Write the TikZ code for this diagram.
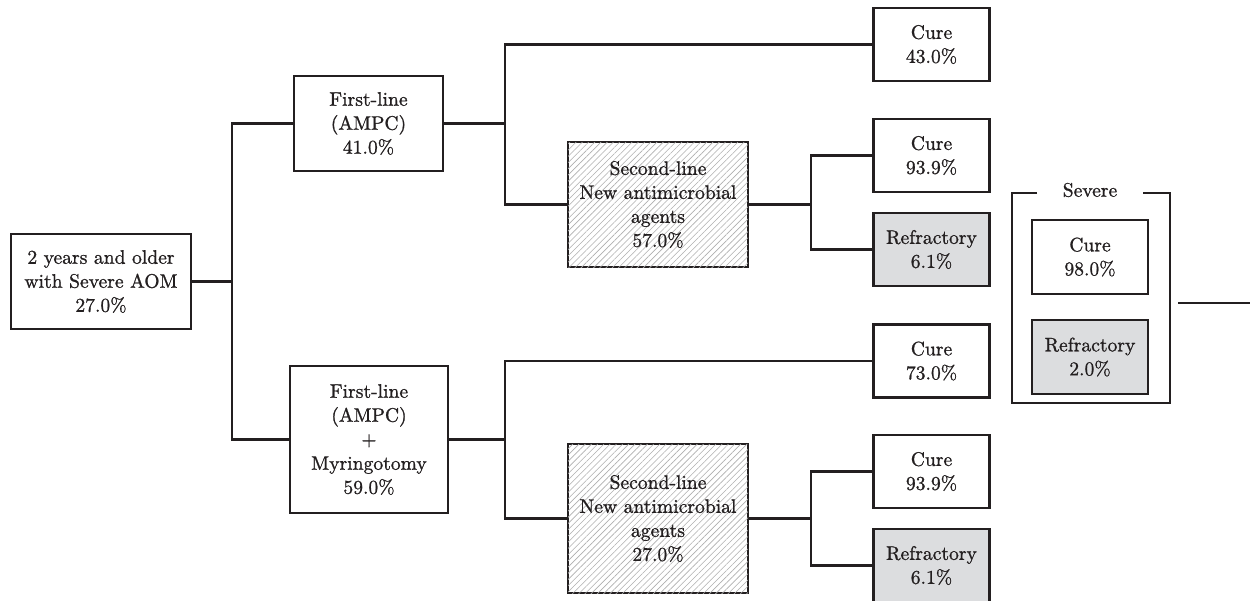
\documentclass[tikz,border=0pt]{standalone}
\usepackage{fontspec}
\newfontfamily\diagfont{lmroman10-regular.otf}[FakeBold=1]
\usetikzlibrary{patterns.meta}
\definecolor{refgray}{RGB}{220,221,223}
\definecolor{hatchgray}{RGB}{175,175,175}
\definecolor{ink}{RGB}{35,31,32}
\begin{document}
\begin{tikzpicture}[x=1pt,y=-1pt,
  every node/.style={font=\diagfont\fontsize{19.6}{24}\selectfont, text=ink},
  box/.style={draw=ink, line width=2.2pt, inner sep=0pt, align=center, fill=white},
  smallbox/.style={box, minimum width=116pt, minimum height=73pt},
  graybox/.style={smallbox, fill=refgray},
  hatchbox/.style={box, minimum width=180pt,
    postaction={pattern={Lines[angle=45,distance=4.4pt,line width=0.6pt]}, pattern color=hatchgray}},
  link/.style={draw=ink, line width=2.2pt},
]
\useasboundingbox (0,0) rectangle (1250,600);

% trunk positions of the tree
\coordinate (t1) at (232,0);
\coordinate (t2) at (505,0);
\coordinate (t3) at (811,0);

% boxes
\node[box, minimum width=180pt, minimum height=95pt] (root) at (101,281.5)
  {2 years and older\\with Severe AOM\\27.0\%};
\node[box, minimum width=149pt, minimum height=95pt] (fl1) at (368.5,123.5)
  {First-line\\(AMPC)\\41.0\%};
\node[box, minimum width=158pt, minimum height=147pt] (fl2) at (369,439.5)
  {First-line\\(AMPC)\\+\\Myringotomy\\59.0\%};

\node[smallbox] (cureA) at (931.5,44.5) {Cure\\43.0\%};
\node[hatchbox, minimum height=125pt] (slA) at (658,204.5)
  {Second-line\\New antimicrobial\\agents\\57.0\%};
\node[smallbox] (cureB) at (931.5,155.5) {Cure\\93.9\%};
\node[graybox] (refB) at (931.5,249.5) {Refractory\\6.1\%};

\node[smallbox] (cureC) at (931.5,361) {Cure\\73.0\%};
\node[hatchbox, minimum height=149pt] (slB) at (658,518.5)
  {Second-line\\New antimicrobial\\agents\\27.0\%};
\node[smallbox] (cureD) at (931.5,471.5) {Cure\\93.9\%};
\node[graybox] (refD) at (931.5,565.5) {Refractory\\6.1\%};

% severe outcome group
\node[smallbox, minimum height=74pt] (cureS) at (1090,257) {Cure\\98.0\%};
\node[graybox, minimum height=74pt] (refS) at (1090,357) {Refractory\\2.0\%};
\node[inner sep=0pt] (sev) at (1090,190) {Severe};
\draw[link] (1037,193) -- (1012,193) -- (1012,403) -- (1170,403) -- (1170,193) -- (1143,193);
\coordinate (tailA) at (1178,303);
\coordinate (tailB) at (1250,303);
\draw[link] (tailA) -- (tailB);

% connectors
\draw[link] (root.east) -- (t1 |- root.east) |- (fl1.west);
\draw[link] (t1 |- root.east) |- (fl2.west);

\draw[link] (fl1.east) -- (t2 |- fl1.east) |- (cureA.west);
\draw[link] (t2 |- fl1.east) |- (slA.west);
\draw[link] (slA.east) -- (t3 |- slA.east) |- (cureB.west);
\draw[link] (t3 |- slA.east) |- (refB.west);

\draw[link] (fl2.east) -- (t2 |- fl2.east) |- (cureC.west);
\draw[link] (t2 |- fl2.east) |- (slB.west);
\draw[link] (slB.east) -- (t3 |- slB.east) |- (cureD.west);
\draw[link] (t3 |- slB.east) |- (refD.west);
\end{tikzpicture}
\end{document}
